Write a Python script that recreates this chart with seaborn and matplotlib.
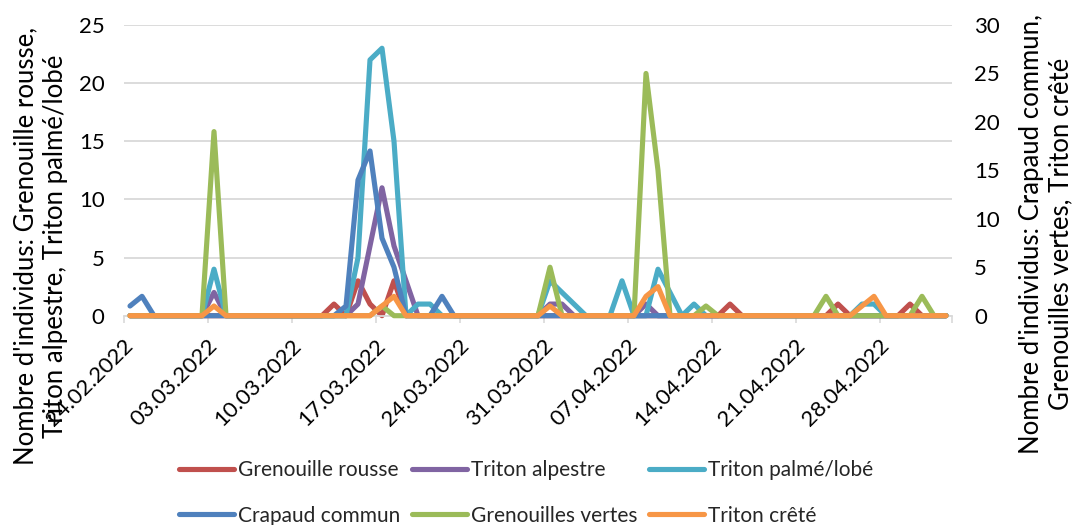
import matplotlib
matplotlib.use("Agg")
import matplotlib.pyplot as plt
import matplotlib.dates as mdates
import pandas as pd
import seaborn as sns

# ---------------- data (daily counts, 24.02.2022 -> 03.05.2022) ----------------
start_date = "2022-02-24"

grenouille_rousse = [0, 0, 0, 0, 0, 0, 0,
                     0, 0, 0, 0, 0, 0, 0,
                     0, 0, 0, 1, 0, 3, 1,
                     0, 3, 0, 0, 0, 0, 0,
                     0, 0, 0, 0, 0, 0, 0,
                     0, 0, 0, 0, 0, 0, 0,
                     0, 0, 0, 0, 0, 0, 0,
                     0, 1, 0, 0, 0, 0, 0,
                     0, 0, 0, 1, 0, 0, 0,
                     0, 0, 1, 0, 0, 0]

triton_alpestre = [0, 0, 0, 0, 0, 0, 0,
                   2, 0, 0, 0, 0, 0, 0,
                   0, 0, 0, 0, 0, 1, 6,
                   11, 6, 3, 0, 0, 0, 0,
                   0, 0, 0, 0, 0, 0, 0,
                   1, 1, 0, 0, 0, 0, 0,
                   0, 1, 0, 0, 0, 0, 0,
                   0, 0, 0, 0, 0, 0, 0,
                   0, 0, 0, 0, 0, 0, 0,
                   0, 0, 0, 0, 0, 0]

triton_palme = [0, 0, 0, 0, 0, 0, 0,
                4, 0, 0, 0, 0, 0, 0,
                0, 0, 0, 0, 0, 5, 22,
                23, 15, 0, 1, 1, 0, 0,
                0, 0, 0, 0, 0, 0, 0,
                3, 2, 1, 0, 0, 0, 3,
                0, 0, 4, 2, 0, 1, 0,
                0, 0, 0, 0, 0, 0, 0,
                0, 0, 0, 0, 0, 1, 1,
                0, 0, 0, 0, 0, 0]

crapaud_commun = [1, 2, 0, 0, 0, 0, 0,
                  0, 0, 0, 0, 0, 0, 0,
                  0, 0, 0, 0, 1, 14, 17,
                  8, 5, 0, 0, 0, 2, 0,
                  0, 0, 0, 0, 0, 0, 0,
                  0, 0, 0, 0, 0, 0, 0,
                  0, 0, 0, 0, 0, 0, 0,
                  0, 0, 0, 0, 0, 0, 0,
                  0, 0, 0, 0, 0, 0, 0,
                  0, 0, 0, 0, 0, 0]

grenouilles_vertes = [0, 0, 0, 0, 0, 0, 0,
                      19, 0, 0, 0, 0, 0, 0,
                      0, 0, 0, 0, 0, 0, 0,
                      1, 0, 0, 0, 0, 0, 0,
                      0, 0, 0, 0, 0, 0, 0,
                      5, 0, 0, 0, 0, 0, 0,
                      0, 25, 15, 0, 0, 0, 1,
                      0, 0, 0, 0, 0, 0, 0,
                      0, 0, 2, 0, 0, 0, 0,
                      0, 0, 0, 2, 0, 0]

triton_crete = [0, 0, 0, 0, 0, 0, 0,
                1, 0, 0, 0, 0, 0, 0,
                0, 0, 0, 0, 0, 0, 0,
                1, 2, 0, 0, 0, 0, 0,
                0, 0, 0, 0, 0, 0, 0,
                1, 0, 0, 0, 0, 0, 0,
                0, 2, 3, 0, 0, 0, 0,
                0, 0, 0, 0, 0, 0, 0,
                0, 0, 0, 0, 0, 1, 2,
                0, 0, 0, 0, 0, 0]

tick_labels = ["24.02.2022", "03.03.2022", "10.03.2022", "17.03.2022", "24.03.2022",
               "31.03.2022", "07.04.2022", "14.04.2022", "21.04.2022", "28.04.2022"]

left_names = ["Grenouille rousse", "Triton alpestre", "Triton palmé/lobé"]
right_names = ["Crapaud commun", "Grenouilles vertes", "Triton crêté"]
left_colors = ["#C0504D", "#8064A2", "#4BACC6"]
right_colors = ["#4F81BD", "#9BBB59", "#F79646"]

dates = pd.date_range(start_date, periods=len(grenouille_rousse), freq="D")
df = pd.DataFrame({
    "date": dates,
    "Grenouille rousse": grenouille_rousse,
    "Triton alpestre": triton_alpestre,
    "Triton palmé/lobé": triton_palme,
    "Crapaud commun": crapaud_commun,
    "Grenouilles vertes": grenouilles_vertes,
    "Triton crêté": triton_crete,
})

# ---------------- style ----------------
sns.set_theme(style="white")
plt.rcParams["font.family"] = ["Lato", "DejaVu Sans"]
FS = 16
FS_TITLE = 18.5
FS_LEG = 15
GRID = "#D9D9D9"
LW = 3.7

fig = plt.figure(figsize=(10.72, 5.25), dpi=100)
ax = fig.add_axes([124 / 1072, 1 - 315.7 / 525, 828 / 1072, (315.7 - 25) / 525])
ax2 = ax.twinx()

handles = {}
for name, col in zip(left_names, left_colors):
    sns.lineplot(data=df, x="date", y=name, ax=ax, color=col, linewidth=LW,
                 legend=False, clip_on=False, solid_joinstyle="round",
                 solid_capstyle="round")
    handles[name] = ax.lines[-1]
for name, col in zip(right_names, right_colors):
    sns.lineplot(data=df, x="date", y=name, ax=ax2, color=col, linewidth=LW,
                 legend=False, clip_on=False, solid_joinstyle="round",
                 solid_capstyle="round")
    handles[name] = ax2.lines[-1]

# axes limits / ticks
x0 = mdates.date2num(dates[0]) - 0.5
x1 = mdates.date2num(dates[-1]) + 0.5
ax.set_xlim(x0, x1)
ax.set_ylim(0, 25)
ax2.set_ylim(0, 30)
ax.set_yticks(range(0, 26, 5))
ax2.set_yticks(range(0, 31, 5))

tick_pos = [mdates.date2num(pd.to_datetime(t, format="%d.%m.%Y")) for t in tick_labels]
ax.set_xticks(tick_pos)
ax.set_xticklabels(tick_labels, rotation=45, ha="right", va="center",
                   rotation_mode="anchor", fontsize=FS, color="black")
ax.set_xticks([p - 0.5 for p in tick_pos] + [x1], minor=True)
ax.tick_params(axis="x", which="major", length=0, pad=19)
ax.tick_params(axis="x", which="minor", length=5, width=1.2, color=GRID, bottom=True)

ax.tick_params(axis="y", length=0, pad=14, labelsize=FS, labelcolor="black")
ax2.tick_params(axis="y", length=0, pad=16, labelsize=FS, labelcolor="black")

ax.set_xlabel("")
ax.set_ylabel("")
ax2.set_ylabel("")

ax.yaxis.grid(True, color=GRID, linewidth=1.3)
ax.xaxis.grid(False)
ax2.grid(False)
ax.set_axisbelow(True)

for s in ["top", "left", "right"]:
    ax.spines[s].set_visible(False)
for s in ["top", "left", "right", "bottom"]:
    ax2.spines[s].set_visible(False)
ax.spines["bottom"].set_color(GRID)
ax.spines["bottom"].set_linewidth(1.3)

# axis titles
fig.text(41 / 1072, 1 - 246 / 525,
         "Nombre d'individus: Grenouille rousse,\nTriton alpestre, Triton palmé/lobé",
         rotation=90, ha="center", va="center", multialignment="center",
         fontsize=FS_TITLE, color="black", linespacing=1.22)
fig.text(1046 / 1072, 1 - 234 / 525,
         "Nombre d'individus: Crapaud commun,\nGrenouilles vertes, Triton crêté",
         rotation=90, ha="center", va="center", multialignment="center",
         fontsize=FS_TITLE, color="black", linespacing=1.22)

# legend (row 1: primary series, row 2: secondary series)
order = ["Grenouille rousse", "Crapaud commun", "Triton alpestre",
         "Grenouilles vertes", "Triton palmé/lobé", "Triton crêté"]
fig.legend([handles[n] for n in order], order, ncol=3, loc="center",
           bbox_to_anchor=(526 / 1072, 1 - 493 / 525), frameon=False,
           fontsize=FS_LEG, handlelength=2.65, handletextpad=0.2,
           columnspacing=0.55, labelspacing=1.2, borderpad=0)

fig.savefig("out.png", dpi=100)
